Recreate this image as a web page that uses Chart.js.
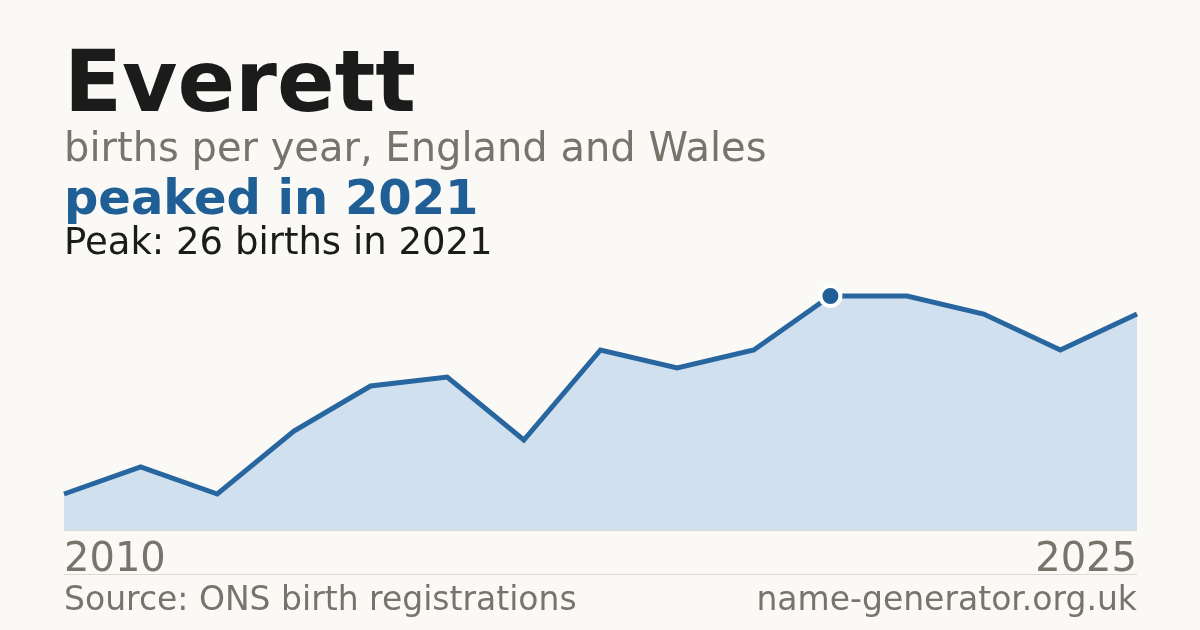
<!DOCTYPE html>
<html>
<head>
<meta charset="utf-8">
<script src="https://cdn.jsdelivr.net/npm/chart.js@4"></script>
<style>
  html, body { margin: 0; padding: 0; }
  body { width: 1200px; height: 630px; background: #faf9f5; position: relative; overflow: hidden;
         font-family: "DejaVu Sans", sans-serif; }
  .t { position: absolute; left: 64px; white-space: nowrap; line-height: 1; }
  #title { top: 39px; font-size: 85px; font-weight: bold; color: #1b1b1b; }
  #sub { top: 127px; font-size: 40px; color: #78746c; }
  #head { top: 173px; font-size: 48px; font-weight: bold; color: #1f5f96; }
  #peak { top: 223px; font-size: 37px; color: #1b1b1b; }
  #x0 { top: 537px; font-size: 40px; color: #78746c; }
  #x1 { top: 537px; left: auto; right: 63px; font-size: 40px; color: #78746c; }
  #src { top: 582px; font-size: 33px; color: #78746c; }
  #site { top: 582px; left: auto; right: 63px; font-size: 33px; color: #78746c; }
  .rule { position: absolute; left: 64px; width: 1073px; height: 1px; background: #dcd9d2; }
  #chart { position: absolute; left: 0; top: 0; width: 1200px; height: 630px; }
</style>
</head>
<body>
<canvas id="chart" width="1200" height="630"></canvas>
<div class="rule" style="top:530px"></div>
<div class="rule" style="top:574px"></div>
<div class="t" id="title">Everett</div>
<div class="t" id="sub">births per year, England and Wales</div>
<div class="t" id="head">peaked in 2021</div>
<div class="t" id="peak"></div>
<div class="t" id="x0"></div>
<div class="t" id="x1"></div>
<div class="t" id="src">Source: ONS birth registrations</div>
<div class="t" id="site">name-generator.org.uk</div>
<script>
const YEARS = ["2010", "2011", "2012", "2013", "2014", "2015", "2016", "2017", "2018", "2019", "2021", "2022", "2023", "2024", "2025"];
const BIRTHS = [4, 7, 4, 11, 16, 17, 10, 20, 18, 20, 26, 26, 24, 20, 24];

const peakVal = Math.max(...BIRTHS);
const peakIdx = BIRTHS.indexOf(peakVal);
document.getElementById("peak").textContent = "Peak: " + peakVal + " births in " + YEARS[peakIdx];
document.getElementById("x0").textContent = YEARS[0];
document.getElementById("x1").textContent = YEARS[YEARS.length - 1];

const CTX = document.getElementById("chart");

let nameChart = new Chart(CTX, {
  type: "line",
  data: {
    labels: YEARS,
    datasets: [
      {
        data: BIRTHS,
        borderColor: "#2866a0",
        borderWidth: 5,
        borderJoinStyle: "miter",
        backgroundColor: "#d0e0ef",
        fill: "origin",
        tension: 0,
        clip: false,
        pointRadius: BIRTHS.map((v, i) => (i === peakIdx ? 10 : 0)),
        pointBackgroundColor: "#1f5f96",
        pointBorderColor: "#ffffff",
        pointBorderWidth: 4,
      },
    ],
  },
  options: {
    responsive: false,
    animation: false,
    devicePixelRatio: 1,
    layout: { padding: { left: 64, right: 63, top: 296, bottom: 100 } },
    plugins: { legend: { display: false }, tooltip: { enabled: false } },
    scales: {
      x: { display: false, offset: false },
      y: { display: false, min: 0, max: peakVal },
    },
  },
});
</script>
</body>
</html>
